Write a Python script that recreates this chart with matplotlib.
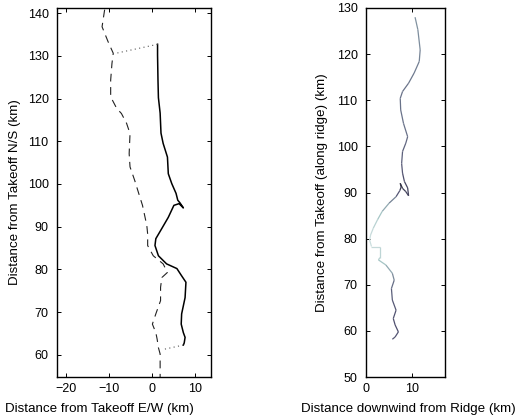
import numpy as np
import matplotlib
matplotlib.use("Agg")
import matplotlib.pyplot as plt
from matplotlib.collections import LineCollection

plt.rcParams["font.family"] = ["Liberation Sans", "DejaVu Sans"]

# left panel: flight track (solid) and second track (dashed), km from takeoff
track_ew = [1.2, 1.2, 1.3, 1.4, 1.8, 2.0, 2.5, 3.5, 3.7, 4.5, 5.5, 5.9, 6.4, 7.2, 6.2, 5.0,
            3.7, 2.2, 0.8, 0.6, 1.4, 3.3, 5.7, 6.8, 7.8, 7.6, 6.8, 6.7, 7.2, 7.6, 7.4, 7.2]
track_ns = [132.7, 130.2, 124.3, 120.2, 116.6, 111.9, 109.5, 106.3, 102.4, 100.1, 97.8, 96.2, 95.6, 94.4, 95.4, 95.0,
            92.2, 89.6, 87.2, 85.6, 83.2, 81.3, 80.2, 78.5, 77.0, 73.4, 69.6, 67.2, 65.2, 64.1, 62.8, 62.3]
other_ew = [-11.1, -11.7, -10.3, -9.1, -9.4, -9.7, -9.7, -8.3, -7.2, -6.0, -5.2, -5.4, -5.2, -4.1, -2.9,
            -2.3, -1.3, -1.1, -1.1, 0.2, 2.5, 3.5, 2.2, 1.9, 1.9, 0.8, 0.0, 0.8, 1.1, 1.4, 1.8, 1.8, 1.8]
other_ns = [140.8, 136.8, 133.3, 130.6, 128.2, 124.3, 120.4, 117.7, 116.5, 114.2, 111.8, 107.1, 104.0, 100.8, 96.9,
            95.0, 90.3, 88.3, 85.6, 83.2, 81.3, 79.3, 78.1, 75.8, 72.7, 69.6, 67.2, 65.2, 63.7, 61.7, 60.2, 56.2, 53.0]
link_top_ew = [1.2, -8.9]
link_top_ns = [132.7, 130.5]
link_bot_ew = [7.2, 2.2]
link_bot_ns = [62.3, 61.2]

# right panel: track in ridge coordinates, with a shade value per point
ridge_x = [10.6, 11.2, 11.7, 11.5, 10.4, 9.2, 7.9, 7.4, 7.5, 8.1, 9.0, 8.6, 7.9, 7.7, 7.9, 8.3,
           9.0, 9.2, 8.6, 7.9, 7.4, 7.6, 7.3, 6.5, 5.0, 3.5, 2.5, 1.6, 1.0, 0.8, 1.2, 3.0, 3.0,
           2.7, 4.3, 5.7, 6.1, 5.5, 5.7, 6.5, 5.9, 6.3, 7.0, 6.3, 5.7]
ridge_y = [128.0, 125.3, 120.9, 118.4, 115.9, 113.7, 111.9, 110.4, 107.9, 105.0, 102.1, 100.7, 98.9, 96.3, 94.2, 92.4,
           91.0, 89.3, 90.2, 90.9, 92.0, 91.2, 90.4, 89.1, 87.7, 85.9, 84.1, 82.3, 80.8, 79.7, 78.3, 78.3, 75.9,
           75.4, 74.3, 72.5, 71.0, 69.2, 66.7, 64.5, 62.7, 61.3, 59.8, 58.7, 58.2]
shade = [0.58, 0.57, 0.55, 0.52, 0.5, 0.48, 0.47, 0.47, 0.47, 0.48, 0.46, 0.43, 0.42, 0.4, 0.38, 0.32,
         0.3, 0.3, 0.3, 0.25, 0.2, 0.25, 0.3, 0.45, 0.6, 0.7, 0.78, 0.82, 0.85, 0.85, 0.85, 0.82, 0.8,
         0.78, 0.7, 0.6, 0.5, 0.42, 0.4, 0.38, 0.36, 0.35, 0.36, 0.38, 0.4]

fig = plt.figure(figsize=(5.22, 4.19), dpi=100)
ax1 = fig.add_axes([0.109, 0.100, 0.295, 0.881])
ax2 = fig.add_axes([0.701, 0.100, 0.151, 0.881])

ax1.plot(track_ew, track_ns, color="black", lw=1.1)
ax1.plot(other_ew, other_ns, color="#222222", lw=0.8, dashes=(7, 5))
ax1.plot(link_top_ew, link_top_ns, color="#555555", lw=0.8, ls=(0, (1, 3)))
ax1.plot(link_bot_ew, link_bot_ns, color="#555555", lw=0.8, ls=(0, (1, 3)))
ax1.set_xlim(-22.2, 13.6)
ax1.set_ylim(54.8, 141.2)
ax1.set_xticks([-20, -10, 0, 10])
ax1.set_xticklabels(["\u221220", "\u221210", "0", "10"])
ax1.set_yticks(range(60, 141, 10))
ax1.set_xlabel("Distance from Takeoff E/W (km)", fontsize=9.6)
ax1.set_ylabel("Distance from Takeoff N/S (km)", fontsize=9.6)
ax1.xaxis.set_label_coords(0.279, -0.071)
ax1.yaxis.set_label_coords(-0.234, 0.5)

pts = np.column_stack([ridge_x, ridge_y]).reshape(-1, 1, 2)
segs = np.concatenate([pts[:-1], pts[1:]], axis=1)
seg_shade = (np.array(shade[:-1]) + np.array(shade[1:])) / 2
lc = LineCollection(segs, cmap="bone", norm=plt.Normalize(0, 1), lw=0.9)
lc.set_array(seg_shade)
ax2.add_collection(lc)
ax2.set_xlim(0, 17)
ax2.set_ylim(50, 130)
ax2.set_xticks([0, 10])
ax2.set_yticks(range(50, 131, 10))
ax2.set_xlabel("Distance downwind from Ridge (km)", fontsize=9.6)
ax2.set_ylabel("Distance from Takeoff (along ridge) (km)", fontsize=9.6)
ax2.xaxis.set_label_coords(0.544, -0.071)
ax2.yaxis.set_label_coords(-0.481, 0.5)

for ax in (ax1, ax2):
    ax.tick_params(direction="in", length=3, width=0.7, top=True, right=True, labelsize=9)
    ax.tick_params(axis="y", pad=6)
    ax.tick_params(axis="x", pad=4)
    for sp in ax.spines.values():
        sp.set_linewidth(1.0)

fig.savefig("out.png", dpi=100)
